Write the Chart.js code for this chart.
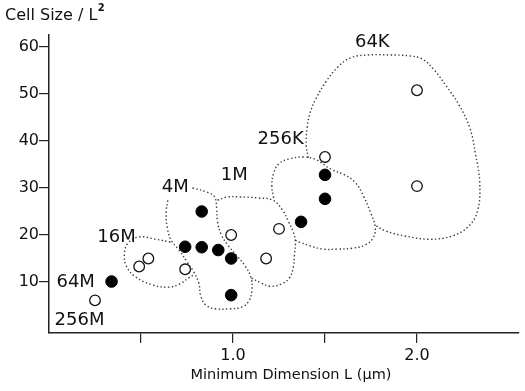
<!DOCTYPE html>
<html>
<head>
<meta charset="utf-8">
<script src="https://cdn.jsdelivr.net/npm/chart.js@4/dist/chart.umd.min.js"></script>
<style>
  html, body { margin: 0; padding: 0; background: #fff; }
  #wrap { width: 525px; height: 391px; }
</style>
</head>
<body>
<div id="wrap"><canvas id="c" width="525" height="391"></canvas></div>
<script>
// ---- data ----
const xTicks = [0.5, 1.0, 1.5, 2.0];
const xTickLabels = ['', '1.0', '', '2.0'];
const yTicks = [10, 20, 30, 40, 50, 60];
const yTickLabels = ['10', '20', '30', '40', '50', '60'];

const openCircles = [
  {x: 0.25, y: 6.1}, {x: 0.49, y: 13.3}, {x: 0.54, y: 15.0}, {x: 0.74, y: 12.7},
  {x: 0.99, y: 20.0}, {x: 1.18, y: 15.0}, {x: 1.25, y: 21.3}, {x: 1.50, y: 36.6},
  {x: 2.00, y: 50.8}, {x: 2.00, y: 30.4}
];
const filledCircles = [
  {x: 0.34, y: 10.1}, {x: 0.74, y: 17.5}, {x: 0.83, y: 25.0}, {x: 0.83, y: 17.4},
  {x: 0.92, y: 16.8}, {x: 0.99, y: 15.0}, {x: 0.99, y: 7.2}, {x: 1.37, y: 22.8},
  {x: 1.50, y: 32.8}, {x: 1.50, y: 27.7}
];

const regionNames = ['64K', '256K', '1M', '4M', '16M', '64M', '256M'];

const outline16M = [
  [0.66,18.5],[0.58,19.1],[0.49,19.6],[0.43,18.3],[0.41,16.0],[0.42,13.4],
  [0.47,11.1],[0.56,9.4],[0.65,8.9],[0.71,9.6],[0.76,10.9],[0.79,11.6]
];
const outline4M = [
  [0.78,30.0],[0.86,29.1],[0.90,28.1],[0.911,25.7],[0.916,22.8],[0.937,20.0],
  [0.975,17.7],[1.023,15.5],[1.066,13.4],[1.098,10.9],[1.103,8.3],[1.087,6.0],
  [1.050,4.7],[0.986,4.3],[0.905,4.3],[0.852,5.1],[0.825,7.0],[0.814,9.8],
  [0.787,12.1],[0.750,14.3],[0.707,16.8],[0.664,18.9],[0.643,21.5],[0.637,24.9],[0.648,27.9]
];
const outline1M = [
  [0.916,27.4],[0.969,28.1],[1.039,28.1],[1.130,27.9],[1.216,27.4],[1.269,25.3],
  [1.302,22.8],[1.328,20.6],[1.339,18.5],[1.334,15.7],[1.328,13.2],[1.307,10.9],
  [1.264,9.6],[1.205,9.1],[1.152,9.8],[1.098,10.9]
];
const outline256K = [
  [1.221,27.9],[1.211,30.4],[1.221,33.2],[1.253,35.3],[1.307,36.2],[1.382,36.6],
  [1.452,36.0],[1.532,34.0],[1.607,32.8],[1.666,31.1],[1.709,28.3],[1.746,24.9],
  [1.773,21.7],[1.762,19.4],[1.719,17.9],[1.650,17.2],[1.569,17.0],[1.489,17.0],
  [1.419,17.7],[1.360,18.5],[1.339,18.9]
];
const outline64K = [
  [1.409,36.4],[1.398,39.1],[1.403,42.8],[1.419,46.0],[1.452,49.1],[1.505,52.6],
  [1.569,55.7],[1.639,57.7],[1.735,58.3],[1.853,58.3],[1.960,58.1],[2.030,57.4],
  [2.094,55.1],[2.159,51.7],[2.228,47.7],[2.287,42.8],[2.319,37.0],[2.341,31.1],
  [2.330,25.3],[2.282,21.9],[2.191,19.8],[2.067,19.1],[1.934,19.8],[1.826,20.9],[1.773,22.1]
];

// ---- chart ----
const FONT = "'DejaVu Sans', 'Liberation Sans', sans-serif";
const toXY = arr => arr.map(p => ({x: p[0], y: p[1]}));

function outlineDataset(arr) {
  return {
    type: 'line',
    data: toXY(arr),
    showLine: true,
    borderColor: '#3a3a3a',
    borderWidth: 1.4,
    borderDash: [1.4, 2.4],
    pointRadius: 0,
    tension: 0.4,
    fill: false,
    order: 2
  };
}

const labelAnchors = [
  {x: 1.757, y: 60.9, align: 'center'},
  {x: 1.259, y: 40.4, align: 'center'},
  {x: 1.007, y: 32.6, align: 'center'},
  {x: 0.686, y: 30.2, align: 'center'},
  {x: 0.471, y: 19.6, align: 'right'},
  {x: 0.145, y: 10.0, align: 'center'},
  {x: 0.166, y: 1.9, align: 'center'}
];

const textPlugin = {
  id: 'texts',
  afterDraw(chart) {
    const ctx = chart.ctx;
    const xs = chart.scales.x, ys = chart.scales.y;
    ctx.save();
    ctx.fillStyle = '#111';
    ctx.textBaseline = 'middle';
    ctx.font = '18px ' + FONT;
    regionNames.forEach((name, i) => {
      const a = labelAnchors[i];
      ctx.textAlign = a.align;
      ctx.fillText(name, xs.getPixelForValue(a.x), ys.getPixelForValue(a.y));
    });
    // y axis title
    ctx.textBaseline = 'alphabetic';
    ctx.textAlign = 'left';
    ctx.font = '16px ' + FONT;
    ctx.fillText('Cell Size / L', 5, 20);
    const w = ctx.measureText('Cell Size / L').width;
    ctx.font = 'bold 10px ' + FONT;
    ctx.fillText('2', 5 + w + 0.5, 11);
    // x axis title
    ctx.font = '14.5px ' + FONT;
    ctx.textAlign = 'center';
    ctx.fillText('Minimum Dimension L (\u03bcm)', 291, 379);
    ctx.restore();
  }
};

new Chart(document.getElementById('c'), {
  type: 'scatter',
  data: {
    datasets: [
      {
        data: filledCircles,
        pointRadius: 5.8,
        pointBackgroundColor: '#000',
        pointBorderColor: '#000',
        pointBorderWidth: 1,
        order: 0
      },
      {
        data: openCircles,
        pointRadius: 5.3,
        pointBackgroundColor: '#fff',
        pointBorderColor: '#111',
        pointBorderWidth: 1.3,
        order: 0
      },
      outlineDataset(outline16M),
      outlineDataset(outline4M),
      outlineDataset(outline1M),
      outlineDataset(outline256K),
      outlineDataset(outline64K)
    ]
  },
  options: {
    responsive: false,
    animation: false,
    events: [],
    devicePixelRatio: 1,
    layout: { padding: { top: 35, right: 0, left: 0, bottom: 0 } },
    plugins: { legend: { display: false }, tooltip: { enabled: false } },
    scales: {
      x: {
        type: 'linear',
        min: 0, max: 2.55,
        afterBuildTicks: s => { s.ticks = xTicks.map(v => ({value: v})); },
        afterFit: s => { s.height = 58; },
        ticks: {
          autoSkip: false, maxRotation: 0,
          callback: (v, i) => xTickLabels[i],
          font: { family: FONT, size: 16 },
          color: '#111',
          padding: 3
        },
        grid: { drawOnChartArea: false, drawTicks: true, tickLength: 10, color: '#222', lineWidth: 1.2 },
        border: { display: true, color: '#222', width: 1.5 }
      },
      y: {
        type: 'linear',
        min: -0.85, max: 62.55,
        afterBuildTicks: s => { s.ticks = yTicks.map(v => ({value: v})); },
        afterFit: s => { s.width = 49; },
        ticks: {
          autoSkip: false,
          callback: (v, i) => yTickLabels[i],
          font: { family: FONT, size: 16 },
          color: '#111',
          padding: 0
        },
        grid: { drawOnChartArea: false, drawTicks: true, tickLength: 10, color: '#222', lineWidth: 1.2 },
        border: { display: true, color: '#222', width: 1.5 }
      }
    }
  },
  plugins: [textPlugin]
});
</script>
</body>
</html>
